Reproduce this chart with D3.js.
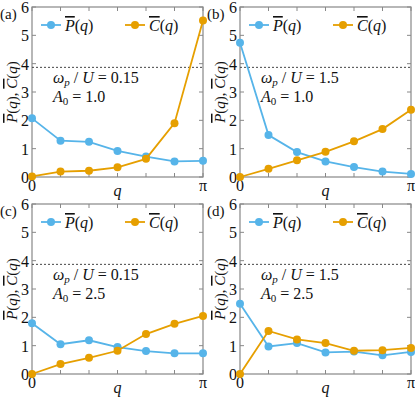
<!DOCTYPE html>
<html>
<head>
<meta charset="utf-8">
<script src="https://cdn.jsdelivr.net/npm/d3@7"></script>
<style>
  body { margin: 0; background: #fff; }
</style>
</head>
<body>
<svg id="chart" width="415" height="399"></svg>
<script>
// q runs over 7 points from 0 to pi
const qIndex = [0, 1, 2, 3, 4, 5, 6];
const qTickLabels = ["0", "", "", "", "", "", "π"];
const yTicks = [0, 1, 2, 3, 4, 5, 6];

const panelTags = ["(a)", "(b)", "(c)", "(d)"];
const omegaText = ["0.15", "1.5", "0.15", "1.5"];
const a0Text = ["1.0", "1.0", "2.5", "2.5"];

const pA = [2.07, 1.28, 1.24, 0.92, 0.72, 0.55, 0.57];
const cA = [0.02, 0.19, 0.22, 0.34, 0.64, 1.9, 5.52];
const pB = [4.74, 1.48, 0.88, 0.55, 0.35, 0.19, 0.11];
const cB = [0.0, 0.29, 0.59, 0.89, 1.26, 1.69, 2.37];
const pC = [1.79, 1.05, 1.19, 0.95, 0.81, 0.73, 0.73];
const cC = [0.0, 0.35, 0.57, 0.82, 1.41, 1.77, 2.05];
const pD = [2.48, 0.97, 1.09, 0.76, 0.79, 0.66, 0.78];
const cD = [0.0, 1.52, 1.22, 1.09, 0.82, 0.84, 0.92];

const dashedLevel = 3.87;

const pSeries = [pA, pB, pC, pD];
const cSeries = [cA, cB, cC, cD];

const blue = "#56b4e9", orange = "#e69f00";
const serif = '"Times New Roman", "Liberation Serif", Tinos, "DejaVu Serif", serif';
const svg = d3.select("#chart");

const pw = 171, ph = 170;
const origins = [[32, 7], [240, 7], [32, 204], [240, 204]];

function overlined(sel, letter) {
  // letter with a bar above, then (q)
  sel.append("tspan").attr("font-style", "italic")
    .style("text-decoration", "overline").text(letter);
  sel.append("tspan").text("(");
  sel.append("tspan").attr("font-style", "italic").text("q");
  sel.append("tspan").text(")");
}

function drawPanel(i) {
  const [ox, oy] = origins[i];
  const g = svg.append("g").attr("transform", `translate(${ox},${oy})`);
  const x = d3.scaleLinear().domain([0, 6]).range([0, pw]);
  const y = d3.scaleLinear().domain([0, 6]).range([ph, 0]);

  // ticks inside the frame
  const tl = 4;
  g.append("g").selectAll("line").data(qIndex).join("line")
    .attr("x1", d => x(d)).attr("x2", d => x(d))
    .attr("y1", ph).attr("y2", ph - tl)
    .attr("stroke", "#888").attr("stroke-width", 1);
  g.append("g").selectAll("line").data(qIndex).join("line")
    .attr("x1", d => x(d)).attr("x2", d => x(d))
    .attr("y1", 0).attr("y2", tl)
    .attr("stroke", "#888").attr("stroke-width", 1);
  g.append("g").selectAll("line").data(yTicks).join("line")
    .attr("x1", 0).attr("x2", tl)
    .attr("y1", d => y(d)).attr("y2", d => y(d))
    .attr("stroke", "#888").attr("stroke-width", 1);
  g.append("g").selectAll("line").data(yTicks).join("line")
    .attr("x1", pw).attr("x2", pw - tl)
    .attr("y1", d => y(d)).attr("y2", d => y(d))
    .attr("stroke", "#888").attr("stroke-width", 1);

  g.append("rect").attr("width", pw).attr("height", ph)
    .attr("fill", "none").attr("stroke", "#888").attr("stroke-width", 1.2);

  // tick labels
  g.append("g").selectAll("text").data(yTicks).join("text")
    .attr("x", -3).attr("y", d => y(d) + 6)
    .attr("text-anchor", "end").attr("font-size", 16).text(d => d);
  g.append("g").selectAll("text").data(qIndex.filter(d => qTickLabels[d] !== "")).join("text")
    .attr("x", d => x(d)).attr("y", ph + 14)
    .attr("text-anchor", "middle").attr("font-size", 16).text(d => qTickLabels[d]);

  g.append("text").attr("x", x(3)).attr("y", ph + 19)
    .attr("text-anchor", "middle").attr("font-size", 16)
    .attr("font-style", "italic").text("q");

  g.append("text").attr("x", i % 2 ? -33 : -32).attr("y", 12)
    .attr("font-size", 15).text(panelTags[i]);

  // y label
  const yl = g.append("text")
    .attr("transform", `translate(-15,${y(3.0)}) rotate(-90)`)
    .attr("text-anchor", "middle").attr("font-size", 15);
  overlined(yl, "P");
  yl.append("tspan").text(", ");
  overlined(yl, "C");

  // dashed level
  g.append("line").attr("x1", 0).attr("x2", pw)
    .attr("y1", y(dashedLevel)).attr("y2", y(dashedLevel))
    .attr("stroke", "#444").attr("stroke-width", 1)
    .attr("stroke-dasharray", "2,2");

  // annotation
  const t1 = g.append("text").attr("x", 21).attr("y", 76).attr("font-size", 16);
  t1.append("tspan").attr("font-style", "italic").text("ω");
  t1.append("tspan").attr("font-style", "italic").attr("font-size", 11).attr("dy", 3).text("p");
  t1.append("tspan").attr("dy", -3).text(" / ");
  t1.append("tspan").attr("font-style", "italic").text("U");
  t1.append("tspan").text(" = " + omegaText[i]);
  const t2 = g.append("text").attr("x", 21).attr("y", 95).attr("font-size", 16);
  t2.append("tspan").attr("font-style", "italic").text("A");
  t2.append("tspan").attr("font-size", 11).attr("dy", 3).text("0");
  t2.append("tspan").attr("dy", -3).text(" = " + a0Text[i]);

  // series
  const line = d3.line().x((d, k) => x(qIndex[k])).y(d => y(d));
  [[pSeries[i], blue], [cSeries[i], orange]].forEach(([vals, col]) => {
    g.append("path").datum(vals).attr("d", line)
      .attr("fill", "none").attr("stroke", col).attr("stroke-width", 1.8);
    g.append("g").selectAll("circle").data(vals).join("circle")
      .attr("cx", (d, k) => x(qIndex[k])).attr("cy", d => y(d))
      .attr("r", 4).attr("fill", col);
  });

  // legend
  const legend = [["P", blue, 9], ["C", orange, 93]];
  legend.forEach(([name, col, lx]) => {
    const ly = 18;
    g.append("line").attr("x1", lx).attr("x2", lx + 20)
      .attr("y1", ly).attr("y2", ly)
      .attr("stroke", col).attr("stroke-width", 1.8);
    g.append("circle").attr("cx", lx + 10).attr("cy", ly).attr("r", 4).attr("fill", col);
    const lt = g.append("text").attr("x", lx + 24).attr("y", ly + 6).attr("font-size", 16);
    overlined(lt, name);
  });
}

[0, 1, 2, 3].forEach(drawPanel);

svg.selectAll("text").style("font-family", serif).style("fill", "#111");
</script>
</body>
</html>
